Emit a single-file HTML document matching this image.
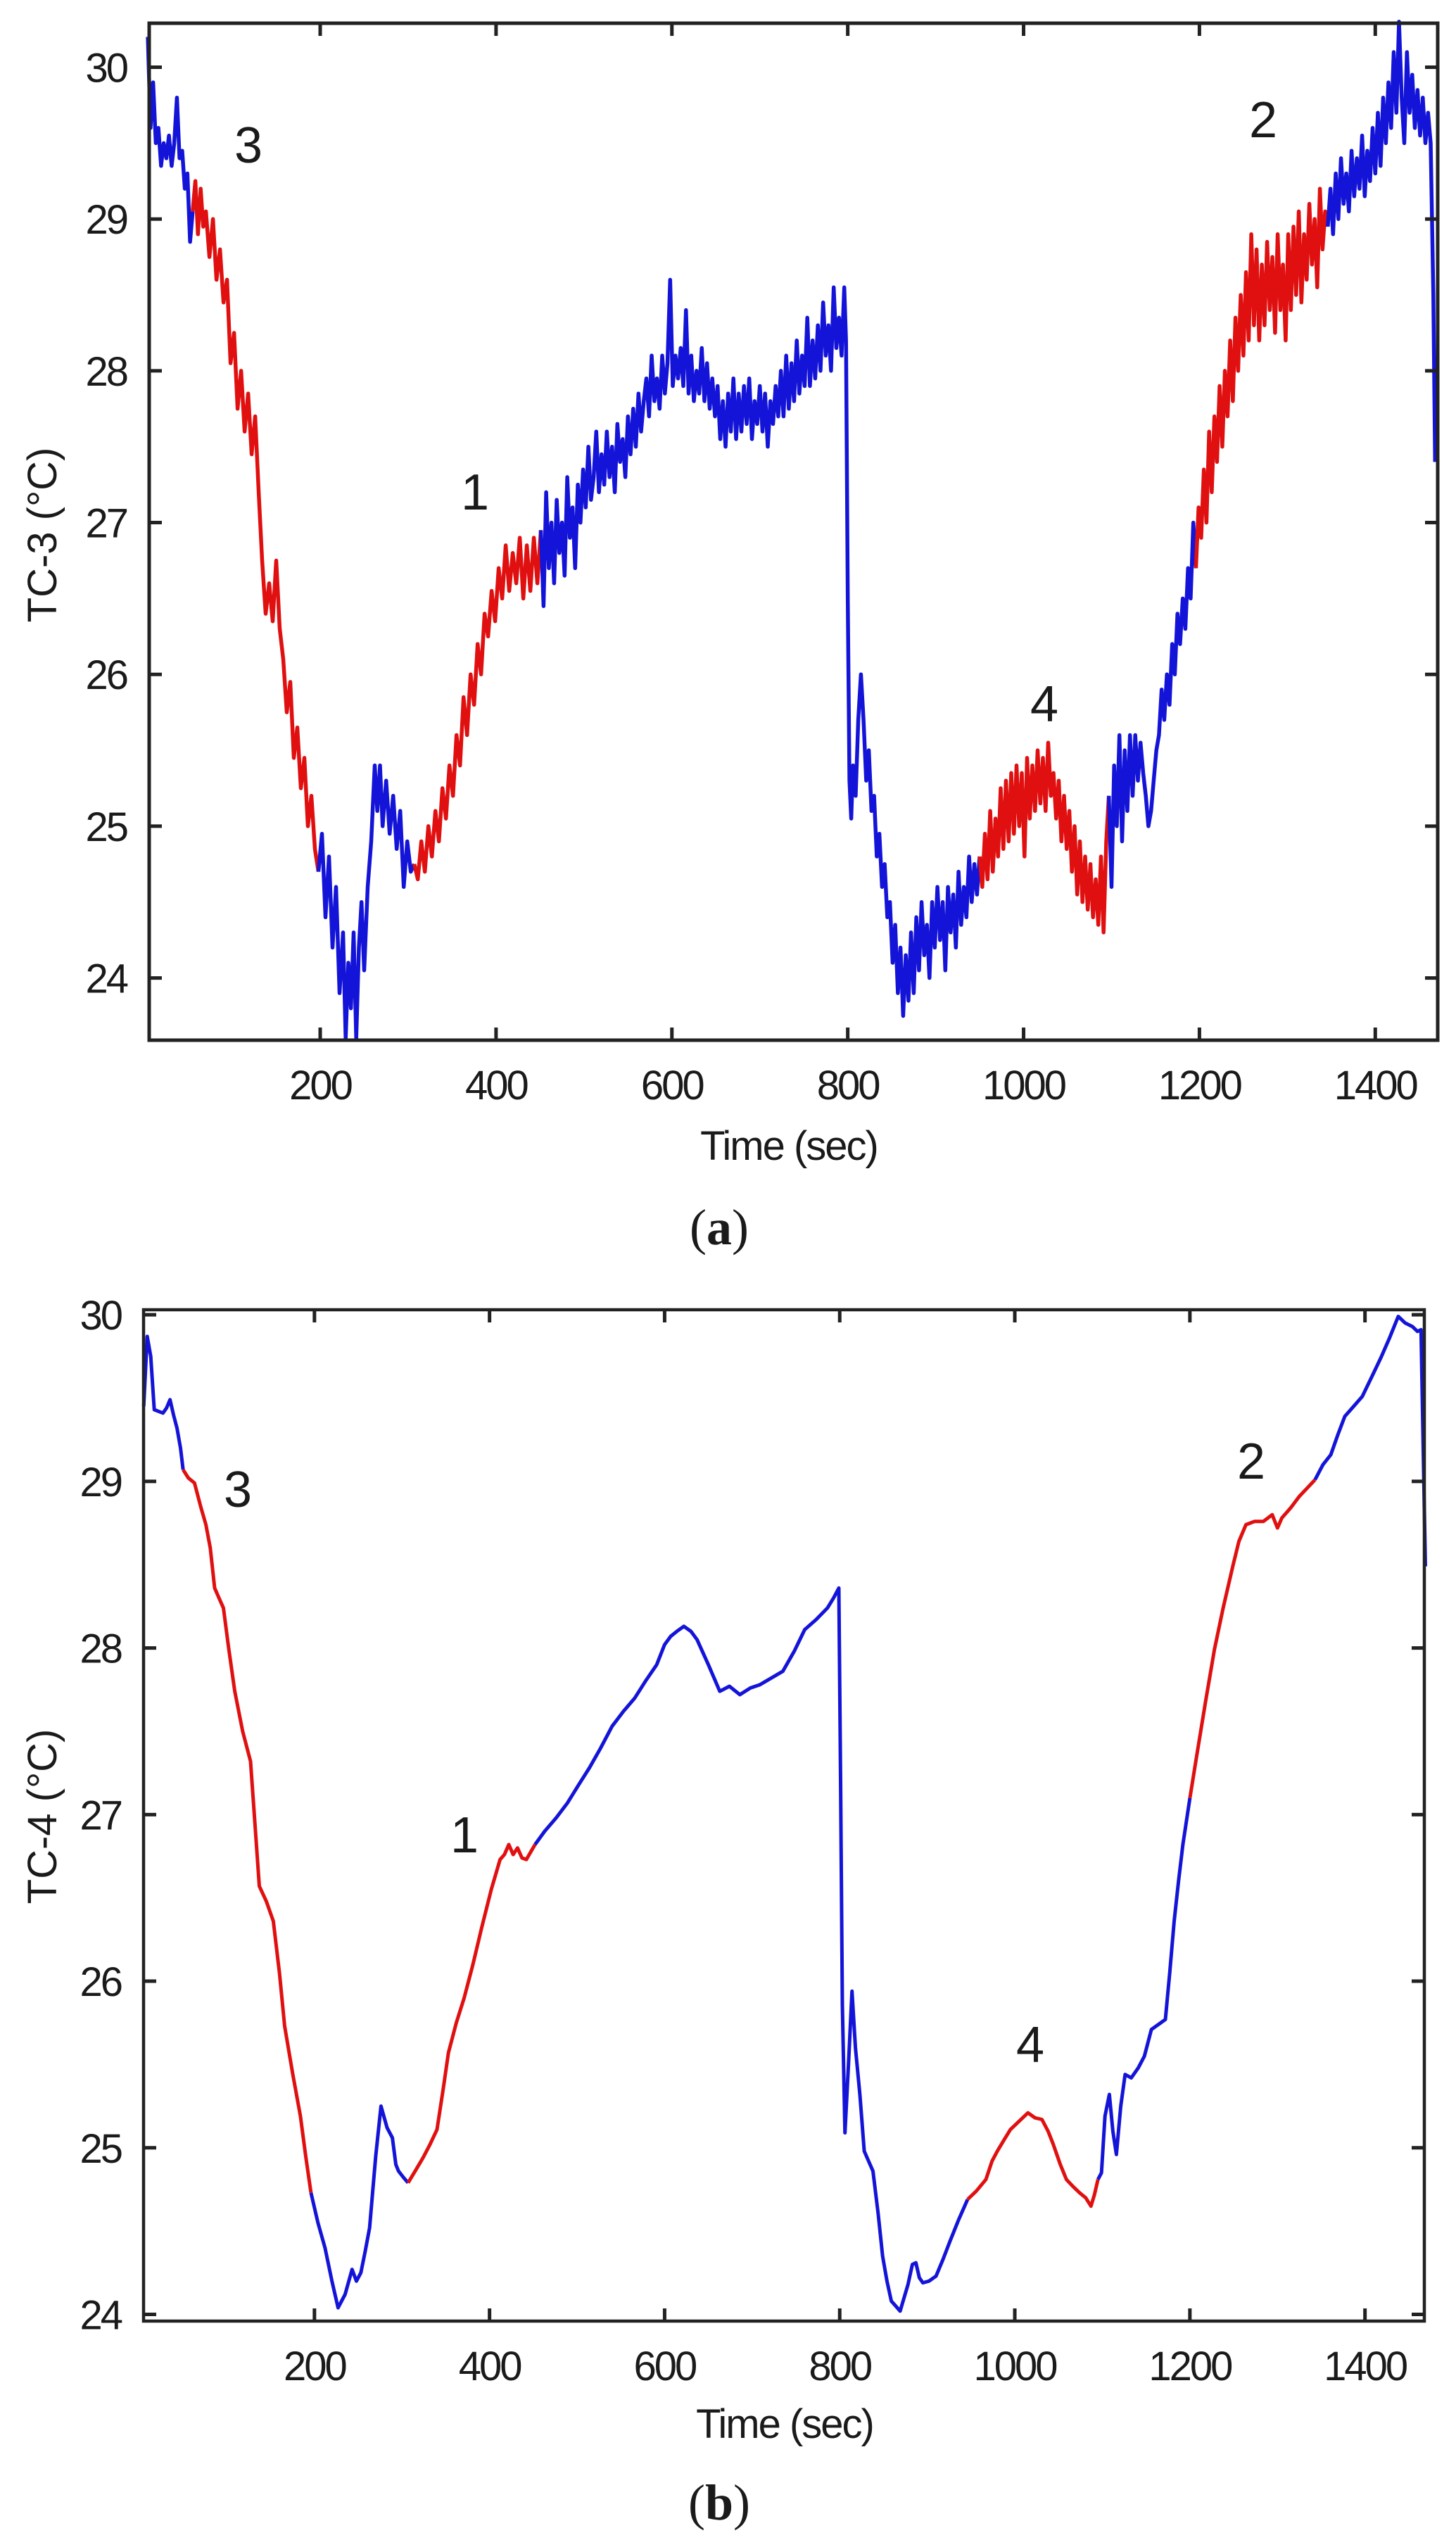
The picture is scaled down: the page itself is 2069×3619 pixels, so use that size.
<!DOCTYPE html>
<html><head><meta charset="utf-8"><style>
html,body{margin:0;padding:0;background:#fff}
svg{display:block}
text{font-family:"Liberation Sans",sans-serif;fill:#1a1a1a}
</style></head><body>
<svg id="fig" width="2069" height="3619" viewBox="0 0 2069 3619" xmlns="http://www.w3.org/2000/svg">
<rect x="0" y="0" width="2069" height="3619" fill="#fff"/>
<g id="chartA"></g>
<g id="chartB"></g>
<text x="1022" y="1768" text-anchor="middle" font-size="72" style="font-family:'Liberation Serif',serif">(<tspan font-weight="bold">a</tspan>)</text>
<text x="1022" y="3580" text-anchor="middle" font-size="72" style="font-family:'Liberation Serif',serif">(<tspan font-weight="bold">b</tspan>)</text>
</svg>
<script>
const xTicks=[200,400,600,800,1000,1200,1400];
const yTicks=[24,25,26,27,28,29,30];
const redStartA=[53,304,949,1195];
const redEndA=[198,448,1095,1345];
const redStartB=[50,307,946,1193];
const redEndB=[196,445,1095,1343];
const ptsA=[[4,30.2],[7,29.6],[10,29.9],[13,29.5],[16,29.6],[19,29.35],[22,29.5],[25,29.4],[28,29.55],[31,29.35],[34,29.5],[37,29.8],[40,29.4],[43,29.45],[46,29.2],[49,29.3],[52,28.85],[55,29.05],[58,29.25],[61,28.9],[64,29.2],[67,28.95],[70,29.05],[74,28.75],[78,29.0],[82,28.6],[86,28.8],[90,28.45],[94,28.6],[98,28.05],[102,28.25],[106,27.75],[110,28.0],[114,27.6],[118,27.85],[122,27.45],[126,27.7],[130,27.2],[134,26.75],[138,26.4],[142,26.6],[146,26.35],[150,26.75],[154,26.3],[158,26.1],[162,25.75],[166,25.95],[170,25.45],[174,25.65],[178,25.25],[182,25.45],[186,25.0],[190,25.2],[194,24.85],[198,24.7],[202,24.95],[206,24.4],[210,24.8],[214,24.2],[218,24.6],[222,23.9],[226,24.3],[229,23.6],[232,24.1],[235,23.8],[238,24.3],[241,23.6],[244,24.2],[247,24.5],[250,24.05],[254,24.6],[258,24.9],[262,25.4],[265,25.1],[268,25.4],[271,25.0],[275,25.3],[279,24.95],[283,25.2],[287,24.85],[291,25.1],[295,24.6],[299,24.9],[303,24.7],[307,24.75],[311,24.65],[315,24.9],[319,24.7],[323,25.0],[327,24.8],[331,25.1],[335,24.9],[339,25.25],[343,25.05],[347,25.4],[351,25.2],[355,25.6],[359,25.4],[363,25.85],[367,25.6],[371,26.0],[375,25.8],[379,26.2],[383,26.0],[387,26.4],[391,26.25],[395,26.55],[399,26.35],[403,26.7],[407,26.5],[411,26.85],[415,26.55],[419,26.8],[423,26.6],[427,26.9],[431,26.5],[435,26.85],[439,26.55],[443,26.9],[447,26.6],[451,26.95],[454,26.45],[457,27.2],[460,26.7],[463,27.0],[466,26.6],[469,27.15],[472,26.8],[475,27.0],[478,26.65],[481,27.3],[484,26.9],[487,27.1],[490,26.7],[493,27.25],[496,27.0],[499,27.35],[502,27.1],[505,27.5],[508,27.15],[511,27.3],[514,27.6],[517,27.2],[520,27.45],[523,27.25],[526,27.6],[529,27.3],[532,27.5],[535,27.2],[538,27.65],[541,27.4],[544,27.55],[547,27.3],[550,27.7],[553,27.45],[556,27.75],[559,27.5],[562,27.85],[565,27.6],[568,27.8],[571,27.95],[574,27.7],[577,28.1],[580,27.8],[583,27.95],[586,27.75],[589,28.1],[592,27.85],[595,28.05],[598,28.6],[601,27.9],[604,28.1],[607,27.95],[610,28.15],[613,27.9],[616,28.4],[619,27.85],[622,28.1],[625,27.8],[628,28.0],[631,27.85],[634,28.15],[637,27.8],[640,28.05],[643,27.75],[646,27.95],[649,27.7],[652,27.9],[655,27.55],[658,27.8],[661,27.5],[664,27.85],[667,27.6],[670,27.95],[673,27.55],[676,27.85],[679,27.6],[682,27.9],[685,27.65],[688,27.95],[691,27.55],[694,27.8],[697,27.65],[700,27.9],[703,27.6],[706,27.85],[709,27.5],[712,27.8],[715,27.65],[718,27.9],[721,27.7],[724,28.0],[727,27.7],[730,28.1],[733,27.75],[736,28.05],[739,27.8],[742,28.2],[745,27.85],[748,28.1],[751,27.9],[754,28.35],[757,27.9],[760,28.2],[763,27.95],[766,28.3],[769,28.0],[772,28.45],[775,28.1],[778,28.3],[781,28.0],[784,28.55],[787,28.15],[790,28.35],[793,28.1],[796,28.55],[798,28.2],[800,26.5],[802,25.3],[804,25.05],[806,25.4],[809,25.2],[812,25.7],[815,26.0],[818,25.7],[821,25.3],[824,25.5],[827,25.1],[830,25.2],[833,24.8],[836,24.95],[839,24.6],[842,24.75],[845,24.4],[848,24.5],[851,24.1],[854,24.35],[857,23.9],[860,24.2],[863,23.75],[866,24.15],[869,23.85],[872,24.3],[875,23.9],[878,24.4],[881,24.05],[884,24.5],[887,24.15],[890,24.35],[893,24.0],[896,24.5],[899,24.2],[902,24.6],[905,24.25],[908,24.5],[911,24.05],[914,24.6],[917,24.3],[920,24.55],[923,24.2],[926,24.7],[929,24.35],[932,24.6],[935,24.4],[938,24.8],[941,24.5],[944,24.75],[947,24.55],[950,24.8],[953,24.6],[956,24.95],[959,24.65],[962,25.1],[965,24.7],[968,25.05],[971,24.8],[974,25.25],[977,24.85],[980,25.3],[983,24.9],[986,25.35],[989,24.95],[992,25.4],[995,25.0],[998,25.35],[1001,24.8],[1004,25.45],[1007,25.05],[1010,25.4],[1013,25.1],[1016,25.5],[1019,25.15],[1022,25.45],[1025,25.1],[1028,25.55],[1031,25.2],[1034,25.35],[1037,25.05],[1040,25.3],[1043,24.9],[1046,25.2],[1049,24.85],[1052,25.1],[1055,24.7],[1058,25.0],[1061,24.55],[1064,24.9],[1067,24.5],[1070,24.8],[1073,24.45],[1076,24.75],[1079,24.4],[1082,24.65],[1085,24.35],[1088,24.8],[1091,24.3],[1094,24.9],[1097,25.2],[1100,24.6],[1103,25.4],[1106,25.0],[1109,25.6],[1112,24.9],[1115,25.5],[1118,25.1],[1121,25.6],[1124,25.2],[1127,25.6],[1130,25.3],[1133,25.55],[1136,25.35],[1139,25.2],[1142,25.0],[1145,25.1],[1148,25.3],[1151,25.5],[1154,25.6],[1157,25.9],[1160,25.7],[1163,26.0],[1166,25.8],[1169,26.2],[1172,26.0],[1175,26.4],[1178,26.2],[1181,26.5],[1184,26.3],[1187,26.7],[1190,26.5],[1193,27.0],[1196,26.7],[1199,27.1],[1202,26.9],[1205,27.35],[1208,27.0],[1211,27.6],[1214,27.2],[1217,27.7],[1220,27.4],[1223,27.9],[1226,27.5],[1229,28.0],[1232,27.7],[1235,28.2],[1238,27.8],[1241,28.35],[1244,28.0],[1247,28.5],[1250,28.1],[1253,28.65],[1256,28.2],[1259,28.9],[1262,28.3],[1265,28.8],[1268,28.2],[1271,28.7],[1274,28.3],[1277,28.85],[1280,28.4],[1283,28.75],[1286,28.25],[1289,28.9],[1292,28.4],[1295,28.7],[1298,28.2],[1301,28.9],[1304,28.4],[1307,28.95],[1310,28.5],[1313,29.05],[1316,28.45],[1319,28.9],[1322,28.6],[1325,29.1],[1328,28.7],[1331,29.0],[1334,28.55],[1337,29.2],[1340,28.8],[1343,29.05],[1346,28.95],[1349,29.2],[1352,28.9],[1355,29.3],[1358,29.0],[1361,29.4],[1364,29.1],[1367,29.3],[1370,29.05],[1373,29.45],[1376,29.15],[1379,29.4],[1382,29.2],[1385,29.55],[1388,29.15],[1391,29.45],[1394,29.25],[1397,29.6],[1400,29.3],[1403,29.7],[1406,29.35],[1409,29.8],[1412,29.5],[1415,29.9],[1418,29.6],[1421,30.1],[1424,29.7],[1427,30.3],[1430,29.8],[1433,29.5],[1436,30.1],[1439,29.7],[1442,29.95],[1445,29.6],[1448,29.85],[1451,29.55],[1454,29.8],[1457,29.5],[1460,29.7],[1463,29.5],[1466,28.5],[1468,27.4]];
const ptsB=[[5,29.45],[9,29.87],[13,29.75],[17,29.43],[22,29.42],[27,29.41],[31,29.44],[35,29.49],[39,29.4],[43,29.32],[47,29.2],[50,29.07],[56,29.02],[63,28.99],[70,28.85],[76,28.74],[81,28.6],[86,28.36],[91,28.3],[96,28.24],[102,28.0],[109,27.74],[118,27.5],[127,27.32],[132,26.95],[137,26.57],[145,26.48],[153,26.36],[160,26.05],[166,25.73],[175,25.45],[184,25.19],[190,24.95],[196,24.73],[204,24.55],[212,24.4],[220,24.2],[227,24.04],[235,24.12],[243,24.27],[248,24.2],[253,24.25],[258,24.38],[263,24.52],[270,24.95],[276,25.25],[283,25.12],[289,25.06],[293,24.9],[296,24.86],[302,24.82],[307,24.79],[315,24.86],[324,24.94],[332,25.02],[340,25.11],[347,25.35],[353,25.57],[362,25.75],[371,25.9],[381,26.1],[391,26.32],[402,26.55],[412,26.73],[417,26.76],[422,26.82],[427,26.76],[432,26.8],[437,26.74],[442,26.73],[452,26.82],[463,26.9],[476,26.98],[489,27.07],[502,27.18],[514,27.28],[527,27.4],[540,27.53],[553,27.62],[566,27.7],[578,27.8],[591,27.9],[600,28.02],[607,28.07],[614,28.1],[622,28.13],[630,28.1],[637,28.05],[650,27.9],[663,27.74],[674,27.77],[686,27.72],[698,27.76],[709,27.78],[722,27.82],[735,27.86],[748,27.98],[760,28.11],[773,28.17],[786,28.24],[793,28.3],[799,28.36],[801,27.2],[803,25.86],[806,25.09],[810,25.5],[814,25.94],[818,25.6],[823,25.32],[828,24.98],[833,24.92],[838,24.86],[844,24.6],[849,24.35],[854,24.2],[859,24.08],[864,24.05],[869,24.02],[878,24.18],[883,24.3],[887,24.31],[891,24.22],[895,24.19],[902,24.2],[910,24.23],[918,24.33],[926,24.44],[936,24.57],[946,24.69],[956,24.74],[967,24.81],[974,24.92],[980,24.98],[988,25.05],[995,25.11],[1005,25.16],[1015,25.21],[1023,25.18],[1031,25.17],[1038,25.1],[1044,25.02],[1052,24.9],[1059,24.81],[1066,24.77],[1074,24.73],[1081,24.7],[1087,24.65],[1091,24.72],[1095,24.81],[1099,24.85],[1103,25.19],[1108,25.32],[1112,25.1],[1116,24.96],[1121,25.25],[1126,25.44],[1133,25.42],[1141,25.48],[1148,25.55],[1156,25.71],[1164,25.74],[1172,25.77],[1177,26.05],[1182,26.36],[1187,26.6],[1192,26.82],[1200,27.1],[1208,27.36],[1218,27.68],[1228,27.99],[1238,28.24],[1249,28.49],[1256,28.64],[1264,28.74],[1274,28.76],[1284,28.76],[1294,28.8],[1300,28.72],[1305,28.78],[1315,28.84],[1325,28.91],[1334,28.96],[1343,29.01],[1352,29.1],[1361,29.16],[1369,29.28],[1377,29.39],[1387,29.45],[1397,29.51],[1408,29.63],[1418,29.74],[1428,29.86],[1438,29.99],[1446,29.95],[1454,29.93],[1460,29.9],[1464,29.91],[1469,28.49]];

const NS='http://www.w3.org/2000/svg';
function mk(parent,tag,attrs){const e=document.createElementNS(NS,tag);for(const k in attrs)e.setAttribute(k,attrs[k]);parent.appendChild(e);return e;}

function drawChart(g,cfg,pts,rs,re){
  const xs=t=>cfg.L+(t-cfg.tMin)/(cfg.tMax-cfg.tMin)*(cfg.R-cfg.L);
  const ys=v=>cfg.B-(v-cfg.vMin)/(cfg.vMax-cfg.vMin)*(cfg.B-cfg.T);
  const isRed=t=>rs.some((s,i)=>t>=s&&t<re[i]);
  let run=[],runRed=null;
  const flush=()=>{ if(run.length>1){
      const p=mk(g,'polyline',{points:run.map(q=>xs(q[0]).toFixed(1)+','+ys(q[1]).toFixed(1)).join(' '),fill:'none',stroke:runRed?'#e01010':'#1414d8','stroke-width':cfg.sw,'stroke-linejoin':'round'});
      
      
    } };
  pts.forEach(q=>{const r=isRed(q[0]);
    if(runRed===null){runRed=r;run=[q];return;}
    if(r!==runRed){run.push(q);flush();run=[run[run.length-1]];runRed=r;}
    else run.push(q);});
  flush();
  const fr=mk(g,'rect',{x:cfg.L,y:cfg.T,width:cfg.R-cfg.L,height:cfg.B-cfg.T,fill:'none',stroke:'#222','stroke-width':cfg.fw});
  
  
  xTicks.forEach(t=>{const x=xs(t);
    const tk=mk(g,'path',{d:`M${x},${cfg.B}v-18M${x},${cfg.T}v18`,stroke:'#222','stroke-width':5});
    
    
    const lb=mk(g,'text',{x:x,y:cfg.xLabY,'text-anchor':'middle','font-size':58,'letter-spacing':'-3'});
    lb.textContent=t;
    
    });
  yTicks.forEach(v=>{const y=ys(v);
    const tk=mk(g,'path',{d:`M${cfg.L},${y}h18M${cfg.R},${y}h-18`,stroke:'#222','stroke-width':5});
    
    
    const lb=mk(g,'text',{x:cfg.yLabX,y:y+21,'text-anchor':'end','font-size':58,'letter-spacing':'-3'});
    lb.textContent=v;
    
    });
  const xt=mk(g,'text',{x:cfg.xTitleX,y:cfg.xTitleY,'text-anchor':'middle','font-size':58,'letter-spacing':'-2'});
  xt.textContent='Time (sec)';
  
  
  const yt=mk(g,'text',{x:0,y:0,'text-anchor':'middle','font-size':58,transform:`translate(${cfg.yTitleX},${cfg.yTitleY}) rotate(-90)`});
  yt.textContent=cfg.yTitle;
  
  
  cfg.ann.forEach(a=>{const t=mk(g,'text',{x:a[1],y:a[2]+25,'text-anchor':'middle','font-size':72});
    t.textContent=a[0];
    
    });
}
drawChart(document.getElementById('chartA'),{L:212,R:2043,T:33,B:1478,tMin:5.5,tMax:1471,vMin:23.59,vMax:30.29,sw:5.5,fw:5,
  xLabY:1562,yLabX:180,xTitleX:1121,xTitleY:1648,yTitleX:80,yTitleY:760,yTitle:'TC-3 (°C)',
  ann:[['3',353,206],['1',675,699],['4',1484,1000],['2',1795,170]]},ptsA,redStartA,redEndA);
drawChart(document.getElementById('chartB'),{L:204,R:2024,T:1861,B:3298,tMin:4.8,tMax:1467.8,vMin:23.96,vMax:30.03,sw:5,fw:4.5,
  xLabY:3382,yLabX:172,xTitleX:1115,xTitleY:3464,yTitleX:80,yTitleY:2581,yTitle:'TC-4 (°C)',
  ann:[['3',338,2116],['1',660,2607],['4',1464,2905],['2',1778,2076]]},ptsB,redStartB,redEndB);
</script>
</body></html>
